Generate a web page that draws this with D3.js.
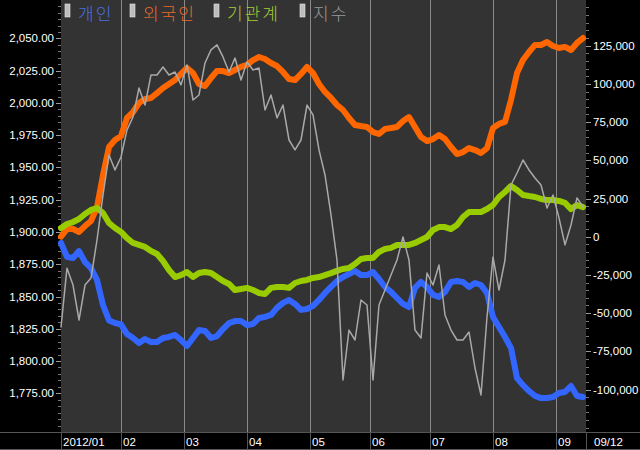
<!DOCTYPE html>
<html><head><meta charset="utf-8">
<script src="https://cdn.jsdelivr.net/npm/d3@7/dist/d3.min.js"></script>
<style>html,body{margin:0;padding:0;background:#000;}svg{display:block;}</style>
</head><body>
<svg id="c" width="640" height="450"></svg>
<script>
// Month labels and their starting trading-day index (2012/01/02 .. 2012/09/12)
const monthLabels = ["2012/01","02","03","04","05","06","07","08","09"];
const monthStart  = [0,20,41,62,83,103,123,144,165];
const lastLabel = "09/12";
const totalDays = 175;
const sampleStep = 2; // one value every 2 trading days

const legendNames = ["개인","외국인","기관계","지수"];

// 개인 (individual net purchase, cumulative)
const individual = [-4100,-13200,-13900,-9400,-16600,-20500,-28300,-44800,-54800,-56500,
-57400,-63700,-66300,-69600,-67000,-68900,-68900,-66300,-65600,-64300,
-67600,-71500,-66300,-61100,-61700,-66300,-65000,-60400,-56500,-55200,
-55200,-57800,-57100,-53200,-52500,-51200,-46600,-43300,-41400,-44000,
-47900,-47300,-45300,-41400,-36800,-32900,-29000,-26400,-24400,-22400,
-25100,-25100,-23100,-27700,-32900,-36100,-40100,-44000,-46000,-33500,
-29600,-32900,-38100,-39400,-36100,-29600,-29000,-29600,-32900,-30300,
-31600,-36800,-52500,-59100,-65600,-72800,-92500,-97100,-101000,-104200,
-105600,-105600,-104900,-102300,-101600,-97700,-104200,-104900];
// 외국인 (foreign)
const foreign = [0,5000,5000,3100,7000,10300,19400,40400,58700,63300,
65900,77700,81600,87500,90100,90800,94000,97300,99900,102500,
106500,110400,107100,99900,98600,103900,108400,108400,107100,109100,
111100,112400,115600,117600,116300,113700,111700,107800,103200,102500,
106500,111100,107100,99900,94700,90800,86200,82900,77700,73100,
72400,71800,68500,67200,70500,71100,71800,75700,78300,71800,
65200,62600,63900,66600,63900,58700,54100,55400,58000,56700,
54800,58000,71100,73800,75100,89500,107100,115600,120900,125500,
125500,127400,124800,123500,124200,122200,126800,130000];
// 기관계 (institutions)
const institution = [5700,8300,9600,11600,14900,17500,18800,15500,9000,5700,
3100,-900,-4100,-5400,-6700,-9400,-11300,-15900,-21800,-26400,
-25100,-23100,-26400,-23800,-23100,-23800,-26400,-29000,-30900,-34900,
-34200,-33500,-34900,-36800,-37500,-33500,-32900,-32900,-33500,-30300,
-29000,-28300,-27000,-26400,-25100,-23800,-22400,-21100,-20500,-17900,
-14600,-13900,-13900,-10000,-8000,-7300,-5400,-5400,-5400,-4100,
-2200,-200,4400,6300,6300,5000,7700,12900,16200,16200,
16200,18100,20700,26000,29300,33200,30600,27300,26600,26000,
24700,24000,24000,23400,22100,18100,20700,19400];
// 지수 (KOSPI index, left axis)
const indexVal = [1826.4,1872.0,1858.9,1831.8,1858.9,1864.3,1893.8,1928.7,1959.7,1948.1,
1958.1,1979.1,1989.1,2011.6,1998.4,2021.7,2021.7,2027.9,2021.7,2024.0,
2014.0,2029.5,2002.3,2006.2,2031.0,2041.1,2045.0,2035.7,2024.0,2034.9,
2017.8,2031.8,2025.6,2027.1,1994.6,2006.2,1988.4,1998.4,1971.3,1963.6,
1971.3,1998.4,1990.7,1963.6,1944.2,1913.2,1878.3,1785.3,1824.0,1816.3,
1847.3,1843.4,1785.3,1843.4,1855.0,1866.7,1878.3,1896.1,1878.3,1824.0,
1817.8,1868.2,1858.9,1874.4,1835.7,1824.0,1816.3,1816.3,1822.5,1794.6,
1773.7,1834.1,1880.6,1855.0,1878.3,1936.4,1945.7,1955.8,1948.1,1941.9,
1936.4,1918.6,1928.7,1910.9,1890.0,1905.4,1926.4,1919.4];

const leftTicks = [1775,1800,1825,1850,1875,1900,1925,1950,1975,2000,2025,2050];
const rightTicks = [-100000,-75000,-50000,-25000,0,25000,50000,75000,100000,125000];

const colors = {blue:"#3366ff", orange:"#ff6600", green:"#99cc00", gray:"#a9a9a9"};
const legendColors = ["#4a6ee0","#e8692a","#a6cc33","#9a9a9a"];

const L = 61, R = 586, T = 0, B = 432;
const svg = d3.select("#c");
const font = "'Liberation Sans', Arial, sans-serif";

const x = d3.scaleLinear().domain([0, totalDays - 1]).range([L, L + (totalDays - 1) * 3]);
const yL = d3.scaleLinear().domain([1745, 2079.8]).range([B, T]);
const yR = d3.scaleLinear().domain([-127800, 154900]).range([B, T]);

svg.append("rect").attr("x",0).attr("y",0).attr("width",640).attr("height",450).attr("fill","#000");
svg.append("rect").attr("x",L).attr("y",T).attr("width",R-L).attr("height",B-T).attr("fill","#333333");

// month grid lines
svg.append("g").selectAll("line").data(monthStart.slice(1)).join("line")
  .attr("x1",d=>Math.round(x(d))+0.5).attr("x2",d=>Math.round(x(d))+0.5)
  .attr("y1",T).attr("y2",B).attr("stroke","#8a8a8a").attr("stroke-width",1);

// bottom band
const band = svg.append("g");
band.append("line").attr("x1",0).attr("x2",640).attr("y1",B+0.5).attr("y2",B+0.5).attr("stroke","#555");
band.append("line").attr("x1",0).attr("x2",640).attr("y1",449.5).attr("y2",449.5).attr("stroke","#555");
band.selectAll("line.sep").data(monthStart).join("line").attr("class","sep")
  .attr("x1",d=>Math.round(x(d))+0.5).attr("x2",d=>Math.round(x(d))+0.5)
  .attr("y1",B).attr("y2",450).attr("stroke","#555");
band.append("line").attr("x1",R+0.5).attr("x2",R+0.5).attr("y1",B).attr("y2",450).attr("stroke","#555");
band.selectAll("text").data(monthLabels).join("text")
  .attr("x",(d,i)=>Math.round(x(monthStart[i]))+2).attr("y",446)
  .attr("fill","#fff").attr("font-family",font).attr("font-size",11.5).text(d=>d);
band.append("text").attr("x",R+8).attr("y",446).attr("fill","#fff")
  .attr("font-family",font).attr("font-size",11.5).text(lastLabel);

// left axis ticks
const gl = svg.append("g");
gl.selectAll("line.mn").data(d3.range(1750, 2080, 5)).join("line").attr("class","mn")
  .attr("x1",L-3).attr("x2",L).attr("y1",d=>Math.round(yL(d))+0.5).attr("y2",d=>Math.round(yL(d))+0.5)
  .attr("stroke","#777");
gl.selectAll("line.mj").data(leftTicks).join("line").attr("class","mj")
  .attr("x1",L-5).attr("x2",L).attr("y1",d=>Math.round(yL(d))+0.5).attr("y2",d=>Math.round(yL(d))+0.5)
  .attr("stroke","#999");
gl.selectAll("text").data(leftTicks).join("text")
  .attr("x",54).attr("y",d=>yL(d)+4).attr("text-anchor","end")
  .attr("fill","#fff").attr("font-family",font).attr("font-size",11.5)
  .text(d=>d3.format(",.2f")(d));

// right axis ticks
const gr = svg.append("g");
gr.selectAll("line.mn").data(d3.range(-125000, 155000, 5000)).join("line").attr("class","mn")
  .attr("x1",R).attr("x2",R+3).attr("y1",d=>Math.round(yR(d))+0.5).attr("y2",d=>Math.round(yR(d))+0.5)
  .attr("stroke","#777");
gr.selectAll("line.mj").data(rightTicks).join("line").attr("class","mj")
  .attr("x1",R).attr("x2",R+5).attr("y1",d=>Math.round(yR(d))+0.5).attr("y2",d=>Math.round(yR(d))+0.5)
  .attr("stroke","#999");
gr.selectAll("text").data(rightTicks).join("text")
  .attr("x",593).attr("y",d=>yR(d)+4)
  .attr("fill","#fff").attr("font-family",font).attr("font-size",11.5)
  .text(d=>d3.format(",")(d).replace("\u2212","-"));

// series
const lineR = d3.line().x((d,i)=>x(i*sampleStep)).y(d=>yR(d));
const lineL = d3.line().x((d,i)=>x(i*sampleStep)).y(d=>yL(d));
const lines = svg.append("g").attr("fill","none").attr("stroke-linejoin","round").attr("stroke-linecap","round");
lines.append("path").attr("d",lineR(foreign)).attr("stroke",colors.orange).attr("stroke-width",6);
lines.append("path").attr("d",lineR(individual)).attr("stroke",colors.blue).attr("stroke-width",6);
lines.append("path").attr("d",lineR(institution)).attr("stroke",colors.green).attr("stroke-width",6);
lines.append("path").attr("d",lineL(indexVal)).attr("stroke",colors.gray).attr("stroke-width",1.5);

// legend
const legX = [65,130,214,300];
const leg = svg.append("g");
legendNames.forEach((n,i)=>{
  leg.append("rect").attr("x",legX[i]).attr("y",4).attr("width",5).attr("height",13)
    .attr("fill","#bdbdbd").attr("stroke","#e8e8e8").attr("stroke-width",0.6);
  leg.append("text").attr("x",legX[i]+13).attr("y",19.5).attr("fill",legendColors[i])
    .attr("font-family","'Noto Sans CJK KR', sans-serif").attr("font-size",17).attr("font-weight",300)
    .attr("letter-spacing",2)
    .text(n);
});
</script>
</body></html>
